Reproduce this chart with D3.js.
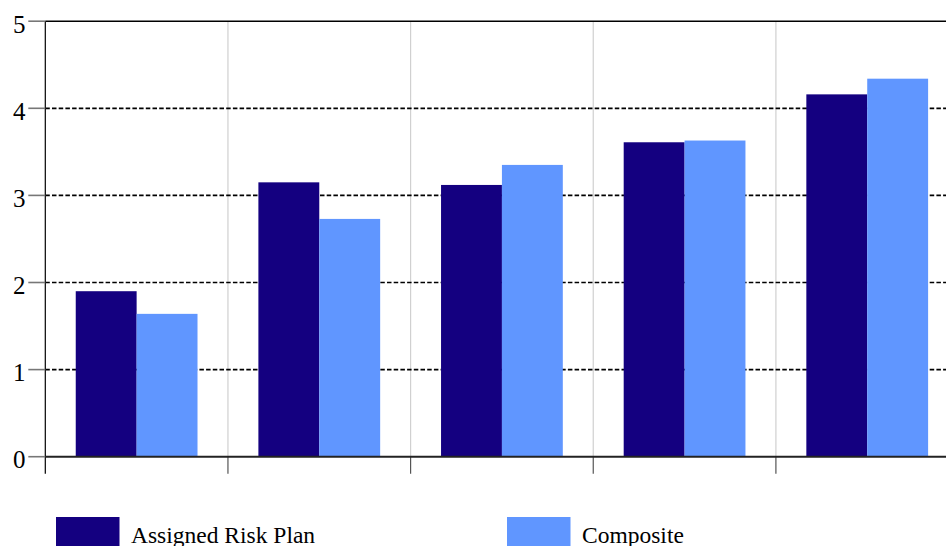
<!DOCTYPE html>
<html>
<head>
<meta charset="utf-8">
<script src="https://cdn.jsdelivr.net/npm/d3@7"></script>
<style>
  html, body { margin: 0; padding: 0; background: #fff; overflow: hidden; }
  svg { display: block; }
  text { font-family: "Liberation Serif", "Times New Roman", serif; fill: #000; }
</style>
</head>
<body>
<svg id="chart" width="946" height="546"></svg>
<script>
const categories = ["Group 1", "Group 2", "Group 3", "Group 4", "Group 5"];
const seriesNames = ["Assigned Risk Plan", "Composite"];
const assignedRiskPlan = [1.90, 3.15, 3.12, 3.61, 4.16];
const composite = [1.64, 2.73, 3.35, 3.63, 4.34];
const yTicks = [0, 1, 2, 3, 4, 5];
const colors = ["#140080", "#6096ff"];

(function () {
const seriesValues = [assignedRiskPlan, composite];
const data = categories.map((c, i) => ({
  category: c,
  values: seriesNames.map((s, j) => ({ series: s, value: seriesValues[j][i] }))
}));

const svg = d3.select("#chart");
const plotLeft = 45.3, plotTop = 21.2, plotBottom = 456.7, bandW = 182.65;

const x0 = d3.scaleBand().domain(categories)
  .range([plotLeft, plotLeft + bandW * categories.length]).paddingInner(0).paddingOuter(0);
const x1 = d3.scaleBand().domain(seriesNames)
  .range([0, x0.bandwidth()]).paddingInner(0).paddingOuter(0.5);
const y = d3.scaleLinear().domain([0, 5]).range([plotBottom, plotTop]);
const plotRight = x0.range()[1];

// vertical light grid lines at band boundaries
svg.append("g").selectAll("line")
  .data(categories.slice(1))
  .join("line")
  .attr("x1", d => x0(d)).attr("x2", d => x0(d))
  .attr("y1", plotTop).attr("y2", plotBottom)
  .attr("stroke", "#d0d0d0").attr("stroke-width", 1.2);

// horizontal dashed grid lines
svg.append("g").selectAll("line")
  .data(yTicks.filter(t => t > 0 && t < 5))
  .join("line")
  .attr("x1", plotLeft).attr("x2", plotRight)
  .attr("y1", d => y(d)).attr("y2", d => y(d))
  .attr("stroke", "#000").attr("stroke-width", 1.7)
  .attr("stroke-dasharray", "4.5,2.2");

// top border
svg.append("line")
  .attr("x1", plotLeft).attr("x2", plotRight)
  .attr("y1", y(5)).attr("y2", y(5))
  .attr("stroke", "#000").attr("stroke-width", 1.6);

// bars
svg.append("g").selectAll("g")
  .data(data)
  .join("g")
  .attr("transform", d => `translate(${x0(d.category)},0)`)
  .selectAll("rect")
  .data(d => d.values)
  .join("rect")
  .attr("x", d => x1(d.series))
  .attr("width", x1.bandwidth())
  .attr("y", d => y(d.value))
  .attr("height", d => y(0) - y(d.value))
  .attr("fill", (d, i) => colors[i]);

// x-axis ticks below baseline
svg.append("g").selectAll("line")
  .data(categories.slice(1))
  .join("line")
  .attr("x1", d => x0(d)).attr("x2", d => x0(d))
  .attr("y1", plotBottom).attr("y2", plotBottom + 17)
  .attr("stroke", "#555").attr("stroke-width", 1.2);

// x axis baseline
svg.append("line")
  .attr("x1", plotLeft).attr("x2", plotRight)
  .attr("y1", plotBottom).attr("y2", plotBottom)
  .attr("stroke", "#222").attr("stroke-width", 2);

// y axis line
svg.append("line")
  .attr("x1", plotLeft).attr("x2", plotLeft)
  .attr("y1", plotTop).attr("y2", plotBottom + 17)
  .attr("stroke", "#000").attr("stroke-width", 1.2);

// y ticks and labels
const yg = svg.append("g");
yg.selectAll("line")
  .data(yTicks)
  .join("line")
  .attr("x1", plotLeft - 17).attr("x2", plotLeft)
  .attr("y1", d => y(d)).attr("y2", d => y(d))
  .attr("stroke", "#777").attr("stroke-width", 1.6);
yg.selectAll("text")
  .data(yTicks)
  .join("text")
  .attr("x", 25.5)
  .attr("y", d => y(d) + 11.5)
  .attr("text-anchor", "end")
  .attr("font-size", 25)
  .text(d => d);

// legend
const legendX = [56, 507];
const lg = svg.append("g").selectAll("g")
  .data(seriesNames)
  .join("g")
  .attr("transform", (d, i) => `translate(${legendX[i]},517)`);
lg.append("rect")
  .attr("width", 63.5).attr("height", 32)
  .attr("fill", (d, i) => colors[i]);
lg.append("text")
  .attr("x", 75).attr("y", 26)
  .attr("font-size", 23.5)
  .text(d => d);
})();
</script>
</body>
</html>
